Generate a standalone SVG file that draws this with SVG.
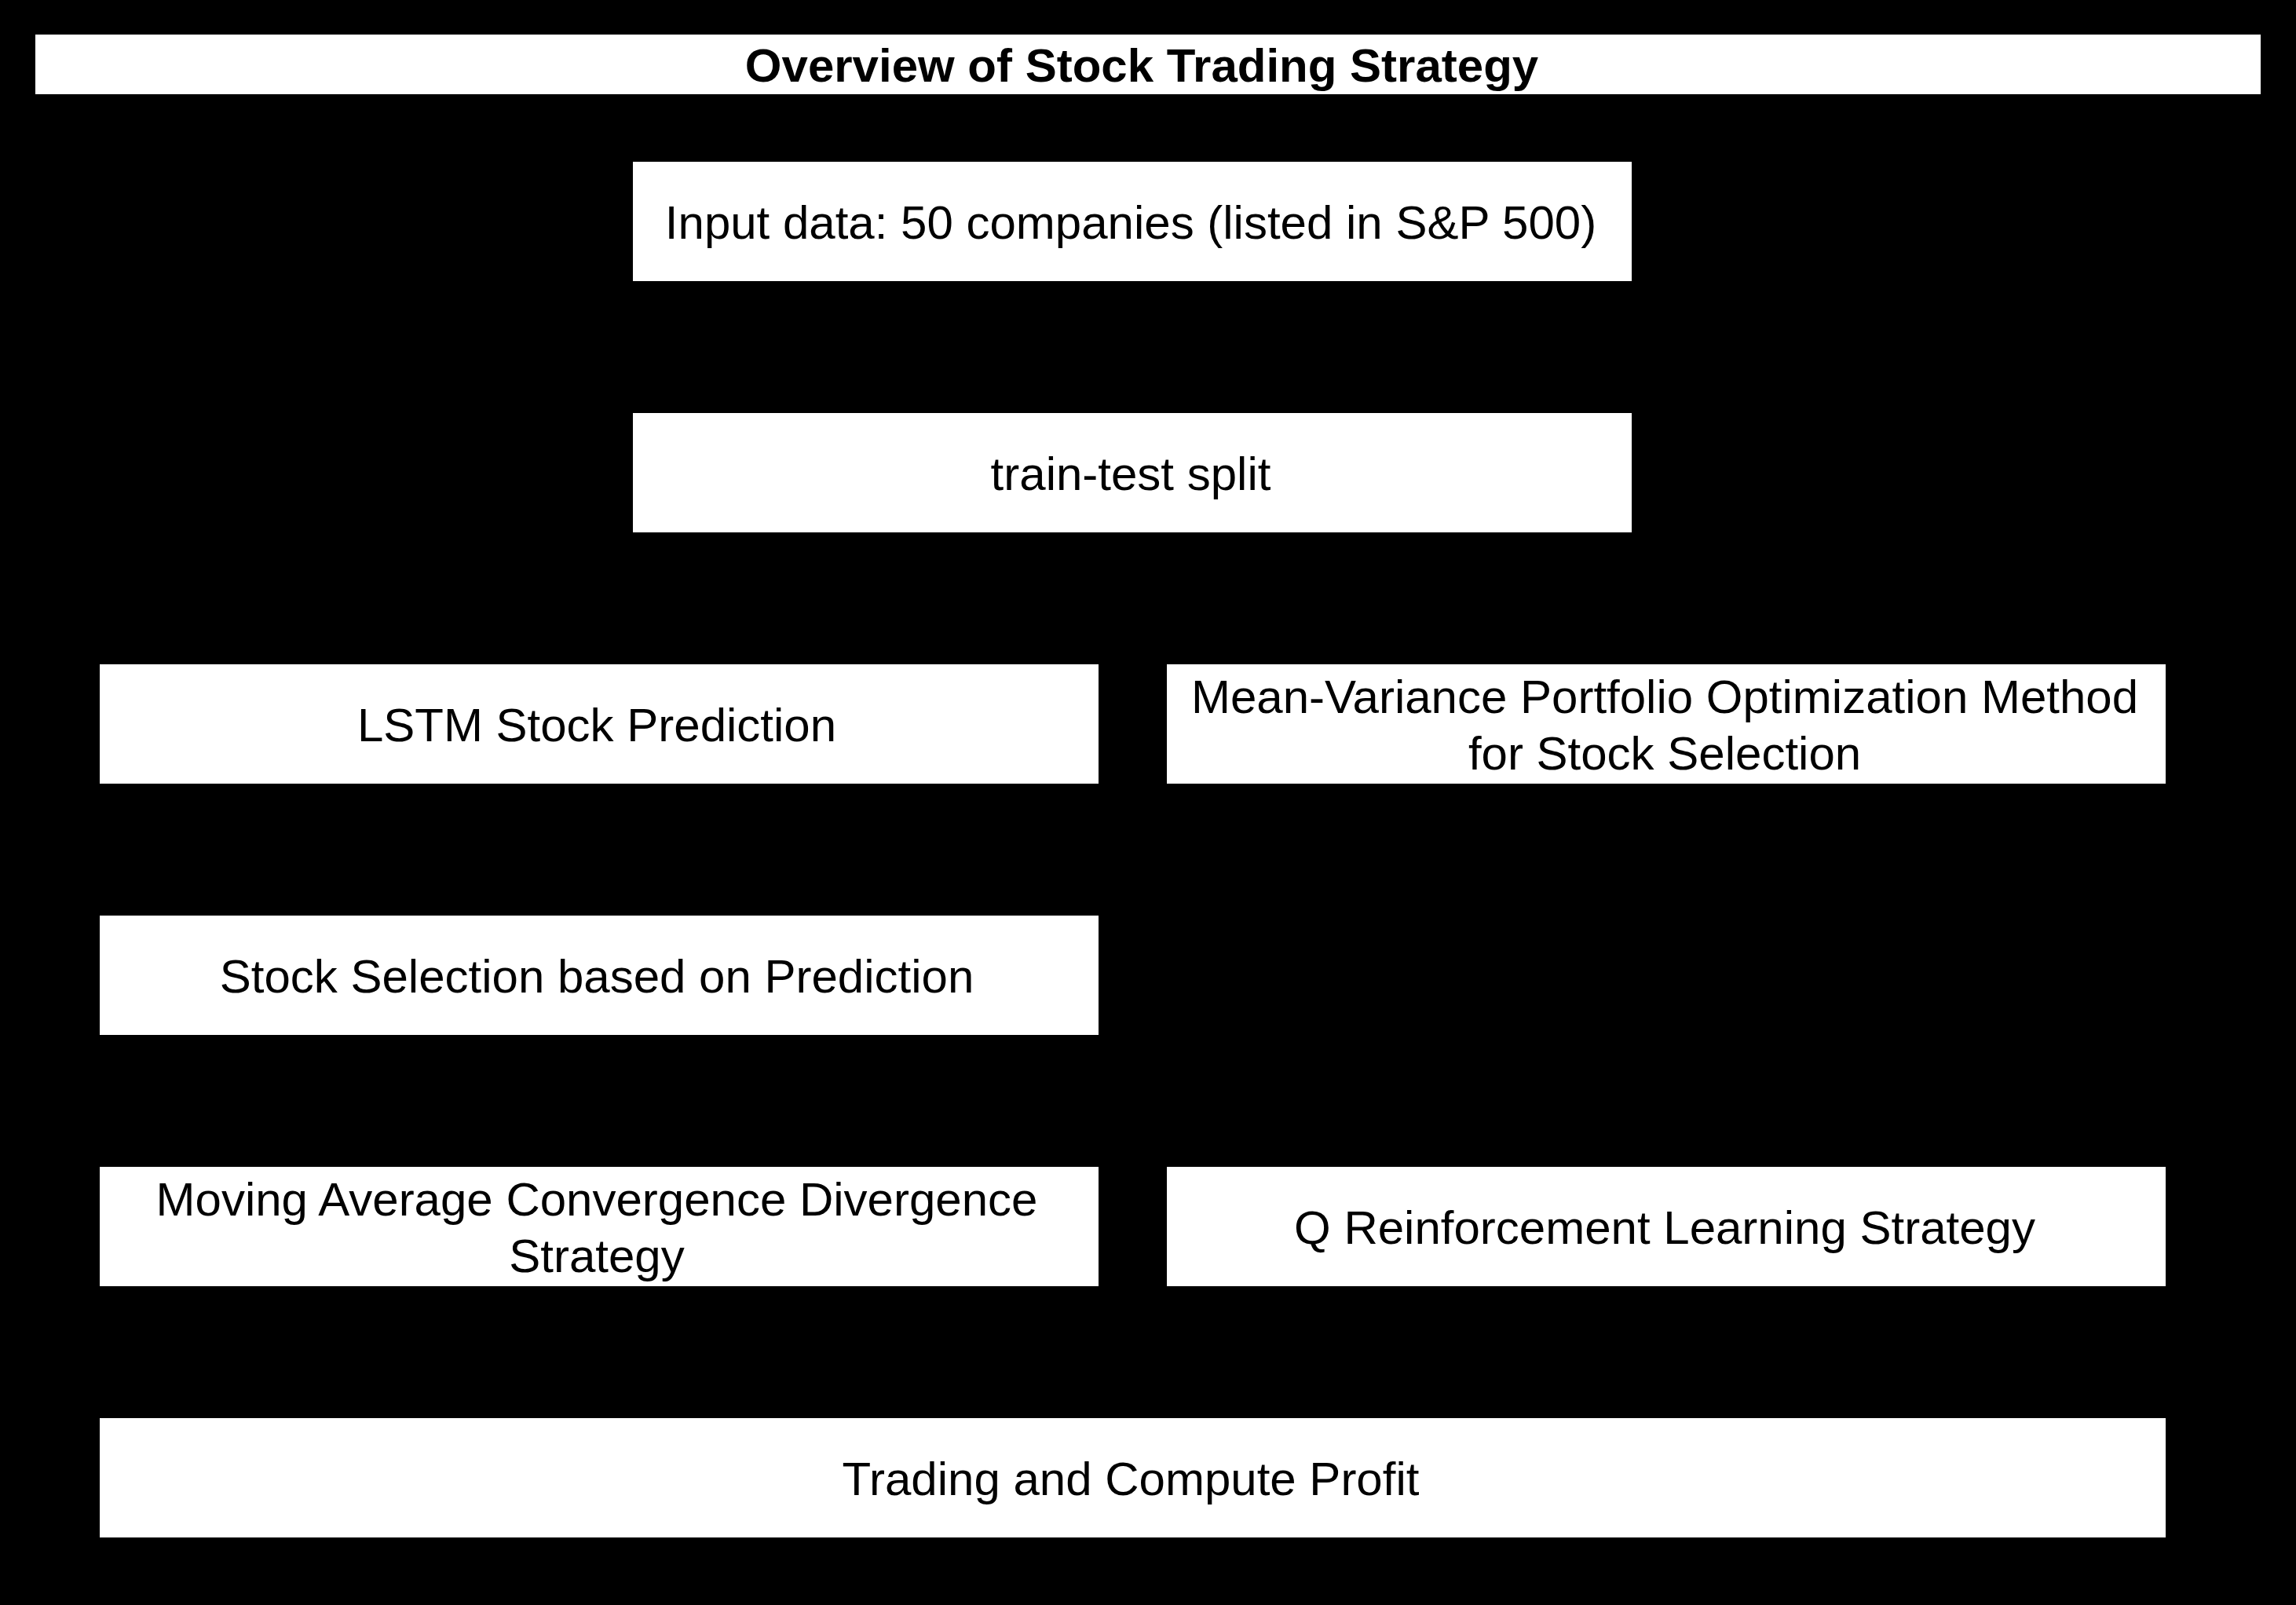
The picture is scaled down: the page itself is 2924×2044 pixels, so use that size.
<svg xmlns="http://www.w3.org/2000/svg" width="2924" height="2044" viewBox="0 0 2924 2044">
<style>
.box{fill:#ffffff;stroke:none}
.t{font-family:"Liberation Sans",Arial,sans-serif;font-size:60px;fill:#000000;text-anchor:middle}
.title{font-weight:bold}
.edge{stroke:#000000;stroke-width:3;fill:none}
</style>
<defs>
<marker id="arr" markerWidth="10" markerHeight="10" refX="9" refY="5" orient="auto" markerUnits="userSpaceOnUse">
<path d="M0,0 L10,5 L0,10 z" fill="#000000"/>
</marker>
</defs>
<rect x="0" y="0" width="2924" height="2044" fill="#000000"/>
<g id="title">
<rect class="box" x="45" y="44" width="2834" height="76"/>
<text class="t title" x="1454" y="104">Overview of Stock Trading Strategy</text>
</g>
<g id="connectors">
<path class="edge" d="M1442,358 L1442,526" marker-end="url(#arr)"/>
<path class="edge" d="M1442,678 L1442,762 L763,762 L763,846" marker-end="url(#arr)"/>
<path class="edge" d="M1442,678 L1442,762 L2123,762 L2123,846" marker-end="url(#arr)"/>
<path class="edge" d="M763,998 L763,1166" marker-end="url(#arr)"/>
<path class="edge" d="M763,1318 L763,1486" marker-end="url(#arr)"/>
<path class="edge" d="M2123,998 L2123,1486" marker-end="url(#arr)"/>
<path class="edge" d="M763,1638 L763,1806" marker-end="url(#arr)"/>
<path class="edge" d="M2123,1638 L2123,1806" marker-end="url(#arr)"/>
</g>
<g id="input">
<rect class="box" x="806" y="206" width="1272" height="152"/>
<text class="t" x="1440" y="303.5">Input data: 50 companies (listed in S&amp;P 500)</text>
</g>
<g id="split">
<rect class="box" x="806" y="526" width="1272" height="152"/>
<text class="t" x="1440" y="623.5">train-test split</text>
</g>
<g id="lstm">
<rect class="box" x="127" y="846" width="1272" height="152"/>
<text class="t" x="760" y="943.5">LSTM Stock Prediction</text>
</g>
<g id="meanvar">
<rect class="box" x="1486" y="846" width="1272" height="152"/>
<text class="t" x="2120" y="907.5">Mean-Variance Portfolio Optimization Method</text>
<text class="t" x="2120" y="979.5">for Stock Selection</text>
</g>
<g id="selection">
<rect class="box" x="127" y="1166" width="1272" height="152"/>
<text class="t" x="760" y="1263.5">Stock Selection based on Prediction</text>
</g>
<g id="macd">
<rect class="box" x="127" y="1486" width="1272" height="152"/>
<text class="t" x="760" y="1547.5">Moving Average Convergence Divergence</text>
<text class="t" x="760" y="1619.5">Strategy</text>
</g>
<g id="qlearning">
<rect class="box" x="1486" y="1486" width="1272" height="152"/>
<text class="t" x="2120" y="1583.5">Q Reinforcement Learning Strategy</text>
</g>
<g id="trading">
<rect class="box" x="127" y="1806" width="2631" height="152"/>
<text class="t" x="1440" y="1903.5">Trading and Compute Profit</text>
</g>
</svg>
